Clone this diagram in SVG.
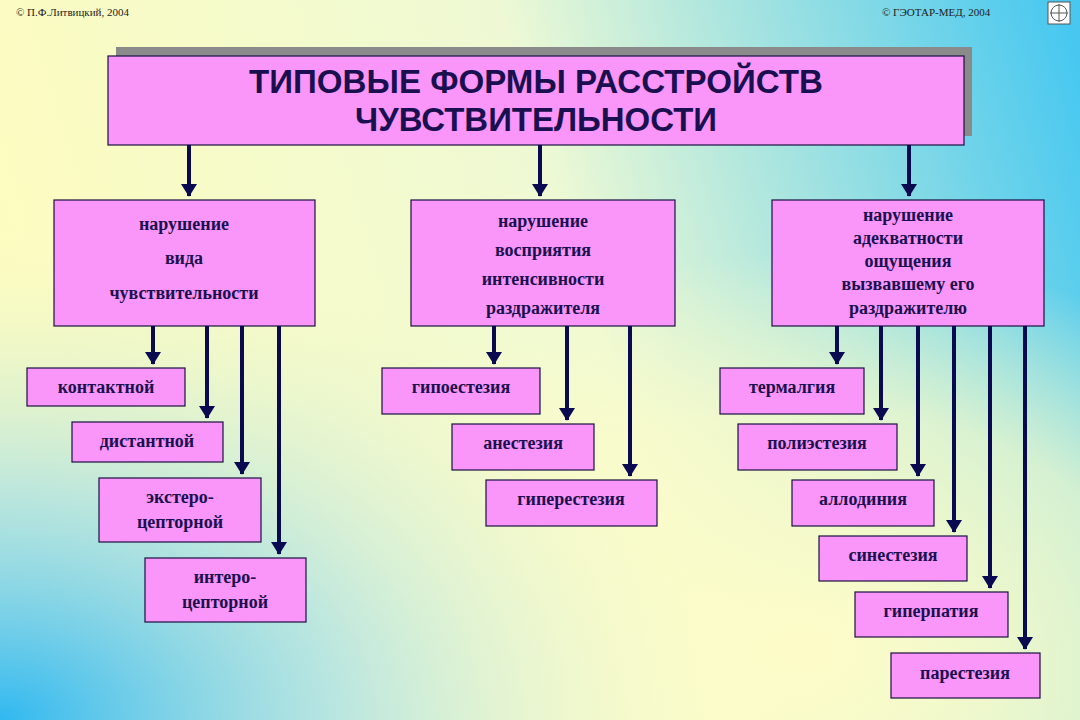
<svg xmlns="http://www.w3.org/2000/svg" width="1080" height="720" viewBox="0 0 1080 720">
<defs>
<linearGradient id="bg1" x1="0" y1="0.3" x2="1" y2="0.1">
<stop offset="0" stop-color="#fdfcc0"/><stop offset="0.5" stop-color="#eef9d4"/><stop offset="1" stop-color="#48c8f0"/>
</linearGradient>
<radialGradient id="bg2" cx="0" cy="1" r="0.7">
<stop offset="0" stop-color="#30b8f0"/><stop offset="0.45" stop-color="#90d8f0" stop-opacity="0.6"/><stop offset="1" stop-color="#fdfcc8" stop-opacity="0"/>
</radialGradient>
<radialGradient id="bg3" cx="0.75" cy="0.9" r="0.55">
<stop offset="0" stop-color="#fdfcc8"/><stop offset="0.6" stop-color="#fdfcc8" stop-opacity="0.7"/><stop offset="1" stop-color="#fdfcc8" stop-opacity="0"/>
</radialGradient>
<marker id="ah" markerWidth="4" markerHeight="4" refX="3" refY="2" orient="auto" markerUnits="strokeWidth">
<path d="M0,0 L3.2,2 L0,4 Z" fill="#0a0a50"/>
</marker>
<style>
.b{fill:#fa96fa;stroke:#1a1040;stroke-width:1.2}
.t{font-family:"Liberation Serif",serif;font-weight:bold;font-size:18px;fill:#1a1050;text-anchor:middle}
.h{font-family:"Liberation Sans",sans-serif;font-weight:bold;font-size:33px;fill:#1a1050;text-anchor:middle}
.c{font-family:"Liberation Serif",serif;font-size:11px;fill:#222}
.a{stroke:#0a0a50;stroke-width:4;fill:none;marker-end:url(#ah)}
</style>
</defs>
<rect width="1080" height="720" fill="url(#bg1)"/>
<rect width="1080" height="720" fill="url(#bg3)"/>
<rect width="1080" height="720" fill="url(#bg2)"/>
<text class="c" x="16" y="16">© П.Ф.Литвицкий,  2004</text>
<text class="c" x="882" y="16">© ГЭОТАР-МЕД,  2004</text>
<g id="logo"><rect x="1048" y="2" width="22" height="22" fill="#fff" stroke="#555"/><circle cx="1059" cy="13" r="8" fill="none" stroke="#555"/><path d="M1050,13 H1068 M1059,4 V22" stroke="#555"/></g>
<g id="title">
<rect x="116" y="47" width="856" height="89" fill="#8a8a8a"/>
<rect class="b" x="108" y="56" width="856" height="89"/>
<text class="h" x="536" y="93" textLength="574" lengthAdjust="spacingAndGlyphs">ТИПОВЫЕ  ФОРМЫ  РАССТРОЙСТВ</text>
<text class="h" x="536" y="131" textLength="362" lengthAdjust="spacingAndGlyphs">ЧУВСТВИТЕЛЬНОСТИ</text>
</g>
<g id="n1"><rect class="b" x="54" y="200" width="261" height="126"/>
<text class="t" x="184" y="230">нарушение</text><text class="t" x="184" y="264">вида</text><text class="t" x="184" y="299">чувствительности</text></g>
<g id="n2"><rect class="b" x="411" y="200" width="264" height="126"/>
<text class="t" x="543" y="227">нарушение</text><text class="t" x="543" y="256">восприятия</text><text class="t" x="543" y="285">интенсивности</text><text class="t" x="543" y="314">раздражителя</text></g>
<g id="n3"><rect class="b" x="772" y="200" width="272" height="126"/>
<text class="t" x="908" y="221">нарушение</text><text class="t" x="908" y="244">адекватности</text><text class="t" x="908" y="267">ощущения</text><text class="t" x="908" y="290">вызвавшему его</text><text class="t" x="908" y="314">раздражителю</text></g>
<g id="l1"><rect class="b" x="27" y="368" width="158" height="38"/><text class="t" x="106" y="393">контактной</text></g>
<g id="l2"><rect class="b" x="72" y="422" width="151" height="40"/><text class="t" x="147" y="447">дистантной</text></g>
<g id="l3"><rect class="b" x="99" y="478" width="162" height="64"/><text class="t" x="180" y="503">экстеро-</text><text class="t" x="180" y="528">цепторной</text></g>
<g id="l4"><rect class="b" x="145" y="558" width="161" height="64"/><text class="t" x="225" y="583">интеро-</text><text class="t" x="225" y="608">цепторной</text></g>
<g id="m1"><rect class="b" x="382" y="368" width="158" height="46"/><text class="t" x="461" y="393">гипоестезия</text></g>
<g id="m2"><rect class="b" x="452" y="424" width="142" height="46"/><text class="t" x="523" y="449">анестезия</text></g>
<g id="m3"><rect class="b" x="486" y="480" width="171" height="46"/><text class="t" x="571" y="505">гиперестезия</text></g>
<g id="r1"><rect class="b" x="720" y="368" width="144" height="46"/><text class="t" x="792" y="393">термалгия</text></g>
<g id="r2"><rect class="b" x="738" y="424" width="159" height="46"/><text class="t" x="817" y="449">полиэстезия</text></g>
<g id="r3"><rect class="b" x="792" y="480" width="142" height="46"/><text class="t" x="863" y="505">аллодиния</text></g>
<g id="r4"><rect class="b" x="819" y="536" width="148" height="45"/><text class="t" x="893" y="561">синестезия</text></g>
<g id="r5"><rect class="b" x="855" y="592" width="153" height="45"/><text class="t" x="931" y="617">гиперпатия</text></g>
<g id="r6"><rect class="b" x="891" y="653" width="149" height="45"/><text class="t" x="965" y="679">парестезия</text></g>
<g id="connectors">
<path class="a" d="M189,145 V196"/><path class="a" d="M540,145 V196"/><path class="a" d="M909,145 V196"/>
<path class="a" d="M153,326 V364"/><path class="a" d="M207,326 V418"/><path class="a" d="M242,326 V474"/><path class="a" d="M279,326 V554"/>
<path class="a" d="M494,326 V364"/><path class="a" d="M567,326 V420"/><path class="a" d="M630,326 V476"/>
<path class="a" d="M837,326 V364"/><path class="a" d="M881,326 V420"/><path class="a" d="M918,326 V476"/><path class="a" d="M954,326 V532"/><path class="a" d="M990,326 V588"/><path class="a" d="M1025,326 V649"/>
</g>
</svg>
